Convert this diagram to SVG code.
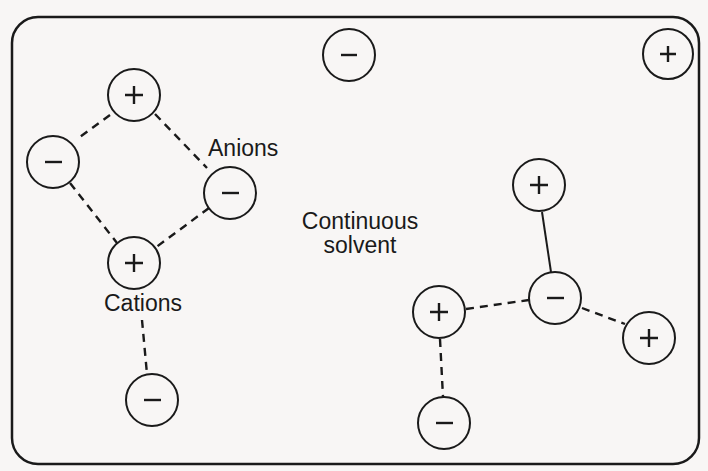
<svg xmlns="http://www.w3.org/2000/svg" width="708" height="471" viewBox="0 0 708 471">
<style>
.ion{fill:none;stroke:#1a1a1a;stroke-width:2}
.sign{stroke:#1a1a1a;stroke-width:2.4;stroke-linecap:butt;fill:none}
.dash{stroke:#1a1a1a;stroke-width:2.4;stroke-dasharray:8 6;fill:none}
.solid{stroke:#1a1a1a;stroke-width:2;fill:none}
.lbl{font-family:"Liberation Sans",Arial,sans-serif;font-size:23px;fill:#1a1a1a}
</style>
<rect x="0" y="0" width="708" height="471" fill="#f8f6f5"/>
<rect id="frame" x="12" y="17" width="687" height="447" rx="26" ry="26" fill="none" stroke="#1a1a1a" stroke-width="2.5"/>
<g id="connectors">
<line class="dash" x1="110" y1="115" x2="77" y2="139"/>
<line class="dash" x1="155" y1="114" x2="207" y2="168"/>
<line class="dash" x1="70" y1="183" x2="117" y2="243"/>
<line class="dash" x1="209" y1="208" x2="155" y2="248"/>
<line class="dash" x1="142" y1="320" x2="147" y2="374"/>
<line class="solid" x1="542" y1="212" x2="551" y2="272"/>
<line class="dash" x1="466" y1="309" x2="529" y2="300"/>
<line class="dash" x1="582" y1="308" x2="625" y2="324"/>
<line class="dash" x1="440" y1="339" x2="443" y2="397"/>
</g>
<g id="cation-top"><circle class="ion" cx="134" cy="95" r="26"/><path class="sign" d="M125 95H143M134 86V104"/></g>
<g id="anion-left"><circle class="ion" cx="53" cy="162" r="26"/><path class="sign" d="M45 162H62"/></g>
<g id="anion-mid"><circle class="ion" cx="230" cy="193" r="26"/><path class="sign" d="M222 193H239"/></g>
<g id="cation-mid"><circle class="ion" cx="134" cy="263" r="26"/><path class="sign" d="M125 263H143M134 254V272"/></g>
<g id="anion-bottom"><circle class="ion" cx="152" cy="400" r="26"/><path class="sign" d="M144 400H161"/></g>
<g id="anion-top"><circle class="ion" cx="349" cy="55" r="26"/><path class="sign" d="M341 55H357"/></g>
<g id="cation-corner"><circle class="ion" cx="668" cy="54" r="25"/><path class="sign" d="M660 54H676M668 46V62"/></g>
<g id="cation-right-top"><circle class="ion" cx="539" cy="185" r="26"/><path class="sign" d="M530 185H548M539 176V194"/></g>
<g id="anion-right"><circle class="ion" cx="555" cy="298" r="26"/><path class="sign" d="M547 298H564"/></g>
<g id="cation-far-right"><circle class="ion" cx="649" cy="338" r="26"/><path class="sign" d="M640 338H658M649 329V347"/></g>
<g id="cation-right-left"><circle class="ion" cx="439" cy="312" r="26"/><path class="sign" d="M430 312H448M439 303V321"/></g>
<g id="anion-right-bottom"><circle class="ion" cx="444" cy="423" r="26"/><path class="sign" d="M436 423H453"/></g>
<g id="labels">
<text class="lbl" x="208" y="156">Anions</text>
<text class="lbl" x="104" y="311">Cations</text>
<text class="lbl" x="360" y="229" text-anchor="middle">Continuous</text>
<text class="lbl" x="360" y="253" text-anchor="middle">solvent</text>
</g>
</svg>
